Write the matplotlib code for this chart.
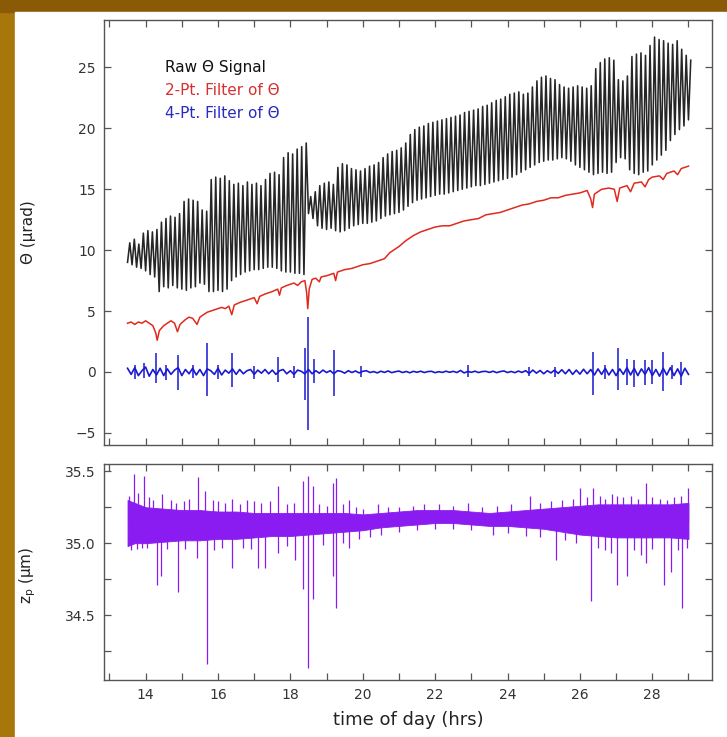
import matplotlib
matplotlib.use("Agg")
import matplotlib.pyplot as plt
from matplotlib.patches import Rectangle
from matplotlib.ticker import MultipleLocator
import numpy as np

# raw theta signal: one low/high pair per cycle, cycle start every 0.125 hr from 13.5
raw_lo = [9.0, 8.8, 8.6, 8.5, 8.3, 8.0, 7.8, 6.6,
          7.0, 6.9, 7.1, 6.9, 6.8, 6.7, 6.9, 7.0,
          7.3, 7.2, 6.6, 6.6, 6.7, 6.6, 6.8, 7.5,
          7.8, 8.0, 8.2, 8.3, 8.4, 8.4, 8.5, 8.6,
          8.6, 8.5, 8.3, 8.2, 8.2, 8.1, 8.1, 8.0,
          13.0, 12.6, 12.0, 11.8, 11.7, 11.8, 11.6, 11.5,
          11.6, 11.8, 12.0, 12.1, 12.2, 12.2, 12.3, 12.4,
          12.6, 12.8, 12.9, 13.0, 13.1, 13.3, 13.6, 13.9,
          14.1, 14.2, 14.3, 14.4, 14.5, 14.6, 14.6, 14.7,
          14.8, 14.9, 15.0, 15.1, 15.2, 15.3, 15.3, 15.4,
          15.5, 15.6, 15.7, 15.8, 15.9, 16.0, 16.2, 16.4,
          16.6, 16.8, 17.0, 17.2, 17.3, 17.4, 17.4, 17.5,
          17.6, 17.5, 17.3, 17.0, 16.8, 16.6, 16.4, 16.2,
          16.3, 16.4, 16.3, 16.4, 17.2, 17.6, 17.5, 16.6,
          16.3, 16.2, 16.4, 16.5, 17.0, 17.4, 17.8, 18.2,
          19.0, 19.5, 19.9, 20.2, 20.7]
raw_hi = [10.6, 10.9, 10.5, 11.4, 11.6, 11.5, 11.7, 12.3,
          12.6, 12.8, 12.7, 13.0, 14.0, 14.2, 14.1, 14.0,
          13.3, 13.2, 15.8, 16.0, 15.9, 16.1, 15.7, 15.4,
          15.5, 15.3, 15.6, 15.4, 15.5, 15.3, 15.8, 16.3,
          16.4, 16.2, 17.6, 18.0, 17.9, 18.3, 18.5, 18.8,
          14.4, 14.8, 15.3, 15.5, 15.6, 15.4, 16.8, 17.1,
          17.0, 16.7, 16.6, 16.5, 16.7, 16.9, 17.0, 17.2,
          17.6, 17.9, 18.1, 18.2, 18.4, 18.8, 19.5, 19.9,
          20.1, 20.2, 20.4, 20.5, 20.6, 20.7, 20.8, 20.9,
          21.0, 21.1, 21.3, 21.4, 21.5, 21.6, 21.8, 21.9,
          22.1, 22.3, 22.4, 22.6, 22.8, 22.9, 23.0, 22.8,
          22.9, 23.4, 23.9, 24.2, 24.3, 24.1, 24.0, 23.6,
          23.4, 23.3, 23.4, 23.5, 23.4, 23.3, 23.5, 24.9,
          25.4, 25.7, 25.8, 25.6, 24.0, 23.9, 24.3, 25.9,
          26.1, 26.2, 26.0, 26.8, 27.5, 27.3, 27.2, 27.0,
          26.9, 27.2, 26.5, 26.0, 25.6]

# 2-pt filter
red_t = [13.5, 13.6, 13.7, 13.8, 13.9, 14.0, 14.1, 14.2, 14.28, 14.32, 14.38, 14.5,
         14.6, 14.7, 14.8, 14.88, 14.95, 15.1, 15.2, 15.3, 15.42, 15.5, 15.6, 15.7,
         15.8, 15.9, 16.0, 16.1, 16.2, 16.3, 16.38, 16.45, 16.6, 16.8, 16.9, 17.0,
         17.08, 17.15, 17.3, 17.5, 17.65, 17.7, 17.75, 17.9, 18.0, 18.1, 18.2, 18.3,
         18.4, 18.45, 18.48, 18.52, 18.6, 18.7, 18.8, 18.85, 19.0, 19.2, 19.25, 19.3,
         19.5, 19.7, 19.9, 20.0, 20.2, 20.4, 20.6, 20.75, 20.9, 21.0, 21.2, 21.4,
         21.6, 21.8, 22.0, 22.2, 22.4, 22.6, 22.8, 23.0, 23.2, 23.4, 23.6, 23.8,
         24.0, 24.2, 24.4, 24.6, 24.8, 25.0, 25.2, 25.4, 25.6, 25.8, 26.0, 26.2,
         26.3, 26.35, 26.4, 26.6, 26.8, 26.95, 27.03, 27.1, 27.3, 27.4, 27.5, 27.7,
         27.8, 27.9, 28.0, 28.2, 28.3, 28.4, 28.6, 28.7, 28.8, 29.0]
red_v = [4.0, 4.1, 3.9, 4.1, 4.0, 4.2, 4.0, 3.8, 3.2, 2.6, 3.4, 3.8,
         4.0, 4.2, 4.0, 3.3, 3.9, 4.3, 4.5, 4.4, 3.9, 4.5, 4.7, 4.9,
         5.0, 5.1, 5.2, 5.3, 5.2, 5.4, 4.7, 5.5, 5.7, 5.9, 6.0, 6.1,
         5.6, 6.2, 6.4, 6.6, 6.8, 6.3, 6.9, 7.1, 7.2, 7.3, 7.1, 7.4,
         7.5, 6.5, 5.2, 6.8, 7.6, 7.7, 7.4, 7.8, 7.9, 8.1, 7.5, 8.2,
         8.4, 8.5, 8.7, 8.8, 8.9, 9.1, 9.3, 9.8, 10.1, 10.3, 10.8, 11.2,
         11.5, 11.7, 11.9, 12.0, 12.0, 12.2, 12.4, 12.5, 12.6, 12.9, 13.0, 13.1,
         13.3, 13.5, 13.7, 13.8, 14.0, 14.1, 14.3, 14.3, 14.5, 14.6, 14.7, 14.9,
         14.2, 13.5, 14.6, 15.0, 15.1, 15.0, 14.0, 15.1, 15.3, 14.8, 15.5, 15.6,
         15.2, 15.8, 16.0, 16.1, 15.8, 16.3, 16.5, 16.2, 16.7, 16.9]

# 4-pt filter: baseline every 0.1 hr from 13.5 to 29.0, plus spikes
blue_base = [0.3, -0.2, 0.35, -0.3, 0.1, 0.4, -0.35, 0.2, -0.25, 0.3,
             -0.3, 0.25, -0.2, 0.15, 0.35, -0.3, 0.2, -0.15, 0.3, -0.25,
             0.2, -0.3, 0.25, 0.1, -0.2, 0.3, -0.25, 0.15, -0.1, 0.25,
             -0.2, 0.2, -0.15, 0.1, 0.2, -0.2, 0.15, -0.1, 0.2, -0.15,
             0.15, -0.2, 0.1, 0.2, -0.15, 0.1, -0.2, 0.15, 0.05, -0.15,
             0.2, -0.15, 0.1, -0.1, 0.15, -0.05, 0.1, -0.15, 0.1, 0.05,
             -0.1, 0.1, -0.05, 0.08, -0.08, 0.05, 0.1, -0.05, 0.03, -0.08,
             0.06, -0.04, 0.08, -0.06, 0.02, 0.07, -0.05, 0.04, -0.07, 0.05,
             -0.03, 0.06, -0.05, 0.03, 0.05, -0.06, 0.02, -0.04, 0.06, -0.03,
             0.05, -0.05, 0.12, -0.08, 0.04, -0.03, 0.06, -0.05, 0.03, 0.05,
             -0.04, 0.06, -0.06, 0.03, 0.08, -0.05, 0.04, -0.06, 0.07, -0.04,
             0.1, -0.12, 0.15, -0.1, 0.12, -0.15, 0.1, -0.08, 0.15, -0.12,
             0.18, -0.15, 0.2, -0.2, 0.15, -0.18, 0.22, -0.15, 0.2, -0.25,
             0.25, -0.2, 0.3, -0.25, 0.2, -0.3, 0.25, -0.2, 0.35, -0.25,
             0.3, -0.3, 0.25, -0.2, 0.35, -0.3, 0.2, -0.35, 0.3, -0.25,
             0.35, -0.3, 0.25, -0.35, 0.3, -0.2]
blue_spike_t = [13.7, 13.95, 14.3, 14.55, 14.9, 15.3, 15.7, 16.0, 16.4, 17.0,
                17.65, 18.1, 18.4, 18.5, 18.65, 19.2, 19.95, 22.9, 24.6, 25.3,
                26.35, 26.7, 27.05, 27.3, 27.5, 27.8, 28.0, 28.3, 28.55, 28.8]
blue_spike_hi = [0.6, 0.7, 1.55, 0.6, 1.4, 0.6, 2.4, 0.6, 1.55, 0.5,
                 1.2, 0.5, 2.0, 4.5, 1.1, 1.8, 0.5, 0.6, 0.4, 0.4,
                 1.65, 0.6, 2.0, 1.1, 1.0, 1.0, 1.0, 1.65, 0.6, 0.8]
blue_spike_lo = [-0.6, -0.5, -0.9, -0.7, -1.5, -0.5, -2.0, -0.6, -1.2, -0.6,
                 -0.8, -0.5, -2.3, -4.75, -0.9, -2.0, -0.4, -0.4, -0.3, -0.4,
                 -1.9, -0.6, -1.5, -1.1, -1.2, -1.1, -1.0, -1.6, -0.6, -1.1]

# z_p: noise band envelope plus spikes
zp_t = [13.5, 13.7, 14.0, 14.5, 15.0, 15.5, 16.0, 16.5, 17.0, 17.5, 18.0, 18.5,
        19.0, 19.5, 20.0, 20.5, 21.0, 21.5, 22.0, 22.5, 23.0, 23.5, 24.0, 24.5,
        25.0, 25.5, 26.0, 26.5, 27.0, 27.5, 28.0, 28.5, 29.0]
zp_top = [35.30, 35.28, 35.25, 35.24, 35.23, 35.23, 35.22, 35.22, 35.21, 35.21, 35.21, 35.21,
          35.21, 35.21, 35.20, 35.21, 35.22, 35.23, 35.23, 35.23, 35.22, 35.21, 35.22, 35.23,
          35.24, 35.25, 35.26, 35.27, 35.27, 35.27, 35.27, 35.27, 35.28]
zp_bot = [34.98, 35.00, 35.00, 35.01, 35.02, 35.02, 35.03, 35.03, 35.04, 35.05, 35.05, 35.06,
          35.07, 35.08, 35.09, 35.11, 35.12, 35.13, 35.14, 35.14, 35.13, 35.12, 35.12, 35.11,
          35.10, 35.08, 35.06, 35.05, 35.04, 35.04, 35.04, 35.04, 35.03]
zp_up_t = [13.55, 13.67, 13.8, 13.95, 14.1, 14.2, 14.45, 14.7, 14.85, 15.05, 15.2, 15.45,
           15.63, 15.85, 16.0, 16.2, 16.39, 16.6, 16.8, 17.0, 17.2, 17.45, 17.65, 17.9,
           18.1, 18.36, 18.5, 18.63, 18.8, 19.0, 19.18, 19.26, 19.45, 19.62, 19.8, 20.0,
           20.43, 20.7, 21.0, 21.4, 21.7, 22.1, 22.5, 22.9, 23.3, 23.7, 24.1, 24.63,
           24.9, 25.2, 25.5, 25.8, 26.0, 26.2, 26.35, 26.55, 26.7, 26.9, 27.03, 27.2,
           27.4, 27.6, 27.84, 28.0, 28.22, 28.4, 28.6, 28.8, 29.0]
zp_up_v = [35.33, 35.48, 35.35, 35.47, 35.32, 35.30, 35.34, 35.30, 35.28, 35.29, 35.31, 35.46,
           35.36, 35.30, 35.29, 35.28, 35.31, 35.27, 35.30, 35.29, 35.28, 35.29, 35.40, 35.27,
           35.28, 35.43, 35.47, 35.40, 35.27, 35.26, 35.42, 35.45, 35.27, 35.30, 35.25, 35.24,
           35.27, 35.25, 35.25, 35.26, 35.27, 35.27, 35.26, 35.28, 35.25, 35.26, 35.27, 35.33,
           35.28, 35.29, 35.30, 35.31, 35.38, 35.32, 35.38, 35.33, 35.31, 35.34, 35.33, 35.32,
           35.33, 35.31, 35.42, 35.32, 35.31, 35.30, 35.32, 35.33, 35.38]
zp_dn_t = [13.6, 13.75, 13.9, 14.05, 14.32, 14.43, 14.6, 14.9, 15.1, 15.42, 15.69, 15.9,
           16.1, 16.4, 16.7, 16.9, 17.1, 17.3, 17.65, 17.9, 18.14, 18.36, 18.5, 18.63,
           18.9, 19.18, 19.26, 19.45, 19.62, 19.9, 20.2, 20.5, 21.0, 21.5, 22.0, 22.5,
           23.0, 23.6, 24.0, 24.5, 24.9, 25.33, 25.6, 25.9, 26.32, 26.5, 26.7, 26.85,
           27.03, 27.3, 27.5, 27.7, 27.84, 28.0, 28.33, 28.51, 28.7, 28.83, 28.95]
zp_dn_v = [34.95, 34.96, 34.97, 34.97, 34.71, 34.77, 34.96, 34.66, 34.96, 34.90, 34.16, 34.95,
           34.97, 34.83, 34.97, 34.96, 34.83, 34.83, 34.93, 34.98, 34.88, 34.68, 34.13, 34.61,
           34.99, 34.77, 34.55, 35.00, 34.97, 35.03, 35.04, 35.06, 35.08, 35.09, 35.10, 35.10,
           35.09, 35.06, 35.07, 35.05, 35.04, 34.88, 35.02, 35.00, 34.60, 34.97, 34.95, 34.93,
           34.71, 34.77, 34.95, 34.92, 34.86, 34.96, 34.71, 34.80, 34.95, 34.55, 34.97]

# build the raw zigzag (low at cycle start, high half a cycle later)
cyc_t = 13.5 + 0.125 * np.arange(len(raw_lo))
raw_t = np.empty(2 * len(raw_lo))
raw_v = np.empty(2 * len(raw_lo))
raw_t[0::2] = cyc_t
raw_t[1::2] = cyc_t + 0.0625
raw_v[0::2] = raw_lo
raw_v[1::2] = raw_hi
blue_t = np.linspace(13.5, 29.0, len(blue_base))

W, H = 727, 737
fig = plt.figure(figsize=(W / 100, H / 100), dpi=100, facecolor="#a8770b")
fig.patches.append(Rectangle((0, 1 - 12 / H), 1, 12 / H, transform=fig.transFigure,
                             color="#8a5a06", zorder=-2))
fig.patches.append(Rectangle((15 / W, 0), 1, 1 - 12 / H, transform=fig.transFigure,
                             color="white", zorder=-1))

left, width = 104 / W, 608 / W
ax1 = fig.add_axes([left, 1 - 445 / H, width, 425 / H])
ax2 = fig.add_axes([left, 1 - 680 / H, width, 216 / H])

axis_col = "#555555"
for ax in (ax1, ax2):
    ax.set_xlim(12.85, 29.65)
    ax.xaxis.set_major_locator(MultipleLocator(2))
    ax.xaxis.set_minor_locator(MultipleLocator(1))
    ax.tick_params(which="both", direction="in", top=True, right=True, length=5,
                   width=0.9, color=axis_col, labelsize=10, labelcolor="#333333", pad=6)
    for s in ax.spines.values():
        s.set_color(axis_col)
        s.set_linewidth(1.0)

ax1.plot(raw_t, raw_v, color="#262626", lw=1.15)
ax1.plot(red_t, red_v, color="#e02a1e", lw=1.1)
ax1.plot(blue_t, blue_base, color="#1818d0", lw=1.2)
ax1.vlines(blue_spike_t, blue_spike_lo, blue_spike_hi, color="#1818d0", lw=1.1)
ax1.set_ylim(-6, 28.9)
ax1.yaxis.set_major_locator(MultipleLocator(5))
ax1.tick_params(labelbottom=False)

ax1.text(0.1, 0.889, "Raw Θ Signal", transform=ax1.transAxes, color="#111111",
         fontsize=11, va="center")
ax1.text(0.1, 0.835, "2-Pt. Filter of Θ", transform=ax1.transAxes, color="#d83030",
         fontsize=11, va="center")
ax1.text(0.1, 0.781, "4-Pt. Filter of Θ", transform=ax1.transAxes, color="#2a2ac0",
         fontsize=11, va="center")

purple = "#8a1cf2"
ax2.fill_between(zp_t, zp_bot, zp_top, color=purple, lw=0.6)
ax2.vlines(zp_up_t, 35.15, zp_up_v, color=purple, lw=0.9)
ax2.vlines(zp_dn_t, zp_dn_v, 35.15, color=purple, lw=0.9)
ax2.set_ylim(34.05, 35.55)
ax2.yaxis.set_major_locator(MultipleLocator(0.5))
ax2.yaxis.set_minor_locator(MultipleLocator(0.25))
ax2.yaxis.set_major_formatter(plt.FormatStrFormatter("%.1f"))
ax2.set_xlabel("time of day (hrs)", fontsize=13, color="#222222", labelpad=6)

fig.text(28 / W, 1 - 232 / H, "Θ (μrad)", rotation=90, fontsize=11,
         ha="center", va="center", color="#222222")
fig.text(28 / W, 1 - 575 / H, "z$_\\mathregular{p}$ (μm)", rotation=90, fontsize=11,
         ha="center", va="center", color="#222222")

fig.savefig("out.png", dpi=100, facecolor=fig.get_facecolor())
